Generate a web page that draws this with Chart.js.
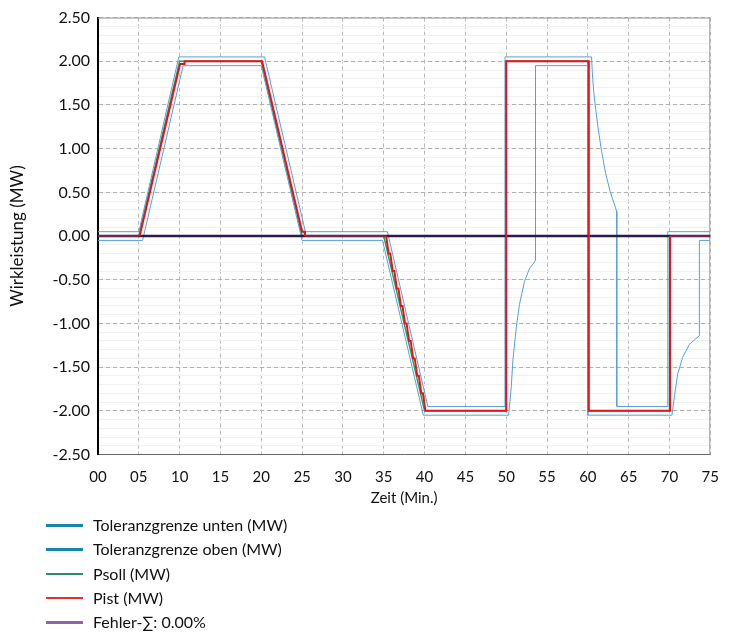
<!DOCTYPE html>
<html><head><meta charset="utf-8">
<script src="https://cdn.jsdelivr.net/npm/chart.js@4.4.1/dist/chart.umd.min.js"></script>
<style>
html,body{margin:0;padding:0;background:#fff;}
#wrap{position:relative;width:733px;height:632px;overflow:hidden;}
canvas{position:absolute;left:0;top:0;}
.lg{position:absolute;left:0;height:20px;font-family:Lato,sans-serif;font-size:16px;color:#111;white-space:nowrap;}
.lg .ln{position:absolute;left:46px;top:9px;width:37px;height:2.5px;}
.lg .tx{position:absolute;left:93px;top:0;line-height:20px;}
</style></head><body>
<div id="wrap"><canvas id="c" width="733" height="520"></canvas><div id="legend"></div></div>
<script>
// ---- data (minutes, MW) ----
const xTicks = [0,5,10,15,20,25,30,35,40,45,50,55,60,65,70,75];
const yTicks = [-2.5,-2,-1.5,-1,-0.5,0,0.5,1,1.5,2,2.5];

const untenT = [0,5.46,10.43,20.0,25.0,34.85,39.85,50.3,50.62,50.81,51.23,51.63,52.24,52.86,53.59,53.59,60.0,60.0,70.3,70.6,71.0,71.61,72.43,73.66,73.66,75];
const untenV = [-0.05,-0.05,1.95,1.95,-0.05,-0.05,-2.05,-2.05,-1.73,-1.43,-1.05,-0.78,-0.52,-0.37,-0.28,1.95,1.95,-2.05,-2.05,-1.84,-1.58,-1.39,-1.24,-1.14,-0.05,-0.05];

const obenT = [0,5.0,9.9,20.4,25.4,35.45,40.4,49.85,49.85,60.45,60.6,60.81,61.22,61.63,62.15,62.73,63.54,63.54,69.8,69.8,75];
const obenV = [0.05,0.05,2.05,2.05,0.05,0.05,-1.95,-1.95,2.05,2.05,1.79,1.57,1.26,1.0,0.73,0.51,0.28,-1.95,-1.95,0.05,0.05];

const psollT = [0,5,10,20,25,35,40,50,50,60,60,70,70,75];
const psollV = [0,0,2,2,0,0,-2,-2,2,2,-2,-2,0,0];

const pistT = [0,5.1,10.05,10.55,10.6,20.1,25.0,25.3,25.35,35.1,35.3,35.6,35.8,36.1,36.3,36.6,36.8,37.1,37.3,37.6,37.8,38.1,38.3,38.6,38.8,39.1,39.3,39.6,39.8,40.1,50.0,50.0,60.12,60.12,70.07,70.07,75];
const pistV = [0,0,1.97,1.97,2.0,2.0,0.05,0.05,0,0,0,-0.2,-0.2,-0.4,-0.4,-0.6,-0.6,-0.8,-0.8,-1.0,-1.0,-1.2,-1.2,-1.4,-1.4,-1.6,-1.6,-1.8,-1.8,-2.0,-2.0,2.0,2.0,-2.0,-2.0,0,0];

const fehlerT = [0,75];
const fehlerV = [0,0];

const labels = ['Toleranzgrenze unten (MW)','Toleranzgrenze oben (MW)','Psoll (MW)','Pist (MW)','Fehler-\u2211: 0.00%'];
const legendColors = ['#1b84ab','#1b84ab','#2f8c6c','#e3312f','#9063ad'];

const pts = (t,v) => t.map((x,i)=>({x:x,y:v[i]}));

const borderPlugin = {
  id:'frame',
  beforeDatasetsDraw(chart){
    const a = chart.chartArea, ctx = chart.ctx;
    ctx.save();
    ctx.strokeStyle = '#9a9a9a';
    ctx.lineWidth = 1;
    ctx.beginPath();
    ctx.moveTo(a.left, a.top+0.5); ctx.lineTo(a.right-0.5, a.top+0.5); ctx.lineTo(a.right-0.5, a.bottom);
    ctx.stroke();
    ctx.restore();
  }
};

const chart = new Chart(document.getElementById('c'), {
  type:'line',
  data:{datasets:[
    {label:labels[0], data:pts(untenT,untenV), borderColor:'#55a0da', borderWidth:1, order:3},
    {label:labels[1], data:pts(obenT,obenV), borderColor:'#55a0da', borderWidth:1, order:4},
    {label:labels[2], data:pts(psollT,psollV), borderColor:'#2fa04c', borderWidth:1.5, order:5},
    {label:labels[3], data:pts(pistT,pistV), borderColor:'#e8121c', borderWidth:2, order:1,
      segment:{borderColor: c => (c.p0.parsed.y===0 && c.p1.parsed.y===0) ? 'rgba(175,45,75,0.55)' : undefined}},
    {label:labels[4], data:pts(fehlerT,fehlerV), borderColor:'#2e1a47', borderWidth:2.5, order:2}
  ]},
  options:{
    responsive:false, animation:false, devicePixelRatio:1,
    layout:{padding:{top:14.5,right:22,bottom:0,left:0}},
    elements:{point:{radius:0}, line:{tension:0}},
    plugins:{legend:{display:false}, tooltip:{enabled:false}},
    scales:{
      x:{type:'linear', min:0, max:75,
        afterBuildTicks: s => { s.ticks = xTicks.map(v=>({value:v})); },
        afterFit: s => { s.height = 65.5; },
        ticks:{padding:14, color:'#111', font:{family:'Lato', size:15},
          callback: v => String(v).padStart(2,'0')},
        grid:{color:'#b8b8b8', drawTicks:false, lineWidth:1},
        border:{color:'#666', width:1, dash:[4,3]},
        title:{display:true, text:'Zeit (Min.)', color:'#111', font:{family:'Lato', size:15}, padding:{top:0,bottom:13}}
      },
      yMinor:{type:'linear', position:'left', min:-2.5, max:2.5,
        ticks:{display:false, stepSize:0.1}, afterFit: s => { s.width = 0; },
        grid:{color:'#f0f0f0', drawTicks:false}, border:{display:false}
      },
      y:{type:'linear', position:'left', min:-2.5, max:2.5,
        afterBuildTicks: s => { s.ticks = yTicks.map(v=>({value:v})); },
        afterFit: s => { s.width = 98; },
        ticks:{padding:8, color:'#111', font:{family:'Lato', size:16},
          callback: v => v.toFixed(2)},
        grid:{color:'#b0b0b0', drawTicks:false},
        border:{color:'#000', width:2, dash:[4,3]},
        title:{display:true, text:'Wirkleistung (MW)', color:'#111', font:{family:'Lato', size:17}, padding:{top:7,bottom:0}}
      }
    }
  },
  plugins:[borderPlugin]
});

// legend (HTML, from dataset labels)
const lg = document.getElementById('legend');
chart.data.datasets.forEach((ds,i)=>{
  const row = document.createElement('div');
  row.className='lg';
  row.style.top = (515 + 24.3*i) + 'px';
  row.style.width='733px';
  const ln = document.createElement('span'); ln.className='ln'; ln.style.background = legendColors[i];
  const tx = document.createElement('span'); tx.className='tx'; tx.textContent = ds.label;
  row.appendChild(ln); row.appendChild(tx); lg.appendChild(row);
});
</script>
</body></html>
